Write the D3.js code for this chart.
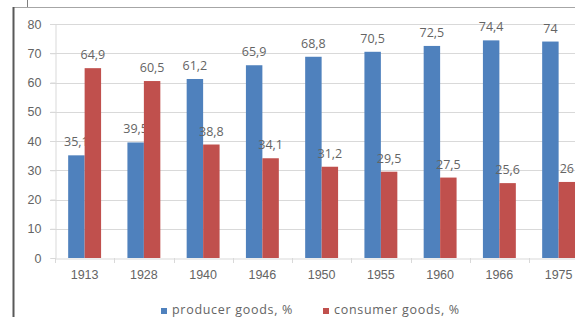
<!DOCTYPE html>
<html>
<head>
<meta charset="utf-8">
<script src="https://cdn.jsdelivr.net/npm/d3@7"></script>
<style>
  body { margin: 0; background: #fff; }
  svg { display: block; font-family: "Open Sans", "Noto Sans", sans-serif; }
</style>
</head>
<body>
<div id="chart"></div>
<script>
const years = ['1913','1928','1940','1946','1950','1955','1960','1966','1975'];
const producer = [35.1, 39.5, 61.2, 65.9, 68.8, 70.5, 72.5, 74.4, 74];
const consumer = [64.9, 60.5, 38.8, 34.1, 31.2, 29.5, 27.5, 25.6, 26];
const seriesNames = ['producer goods, %', 'consumer goods, %'];
const colors = ['#4f81bd', '#c0504d'];
const yTicks = [0, 10, 20, 30, 40, 50, 60, 70, 80];

const W = 575, H = 317;
const fs = '12.5px';
const txt = '#646464';
const svg = d3.select('#chart').append('svg')
    .attr('width', W).attr('height', H);

// outer frame bits
svg.append('line').attr('x1', 27.5).attr('x2', 27.5).attr('y1', 0).attr('y2', 7)
    .attr('stroke', '#7f7f7f');
svg.append('line').attr('x1', 13).attr('x2', W).attr('y1', 7.5).attr('y2', 7.5)
    .attr('stroke', '#a6a6a6');
svg.append('line').attr('x1', 13.5).attr('x2', 13.5).attr('y1', 7).attr('y2', H)
    .attr('stroke', '#595959').attr('stroke-width', 2);

const x = d3.scaleBand().domain(years).range([55, 55 + 9 * 59.25]);
const y = d3.scaleLinear().domain([0, 80]).range([258, 24]);
const inner = d3.scaleBand().domain([0, 1]).range([0, x.bandwidth()])
    .paddingOuter(0.8).paddingInner(0);

// gridlines
svg.append('g').selectAll('line').data(yTicks.slice(1)).join('line')
    .attr('x1', 50).attr('x2', W)
    .attr('y1', d => Math.round(y(d)) + 0.5).attr('y2', d => Math.round(y(d)) + 0.5)
    .attr('stroke', '#d9d9d9');

// y axis
const yAxis = svg.append('g').attr('transform', 'translate(55.5,0)')
    .call(d3.axisLeft(y).tickValues(yTicks).tickSize(5).tickPadding(9));
yAxis.select('.domain').attr('stroke', '#d9d9d9');
yAxis.selectAll('.tick line').attr('stroke', '#d9d9d9');
yAxis.selectAll('text').attr('fill', txt).style('font-size', fs);

// x axis
const xAxis = svg.append('g').attr('transform', 'translate(0,258.5)')
    .call(d3.axisBottom(x).tickSize(0).tickPadding(12));
xAxis.select('.domain').attr('stroke', '#d9d9d9');
xAxis.selectAll('text').attr('fill', txt).style('font-size', fs);
svg.append('g').selectAll('line').data(years).join('line')
    .attr('x1', d => Math.round(x(d)) + 0.5).attr('x2', d => Math.round(x(d)) + 0.5)
    .attr('y1', 258).attr('y2', 263).attr('stroke', '#d9d9d9');

// bars
const series = [producer, consumer];
series.forEach((vals, s) => {
  const g = svg.append('g');
  g.selectAll('rect').data(vals).join('rect')
    .attr('x', (d, i) => x(years[i]) + inner(s))
    .attr('width', inner.bandwidth())
    .attr('y', d => y(d))
    .attr('height', d => y(0) - y(d))
    .attr('fill', colors[s]);
  g.selectAll('text').data(vals).join('text')
    .attr('x', (d, i) => x(years[i]) + inner(s) + inner.bandwidth() / 2)
    .attr('y', d => y(d) - 9)
    .attr('text-anchor', 'middle')
    .attr('fill', txt)
    .style('font-size', fs)
    .text(d => String(d).replace('.', ','));
});

// legend
const legendX = [161, 323];
seriesNames.forEach((name, s) => {
  svg.append('rect').attr('x', legendX[s]).attr('y', 308)
    .attr('width', 6).attr('height', 6).attr('fill', colors[s]);
  svg.append('text').attr('x', legendX[s] + 11).attr('y', 313.5)
    .attr('fill', txt).style('font-size', '12.5px')
    .style('letter-spacing', '0.7px').text(name);
});
</script>
</body>
</html>
